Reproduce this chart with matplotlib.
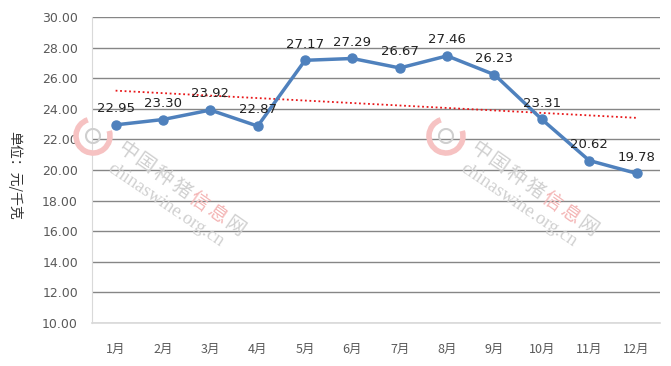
import matplotlib.pyplot as plt
import numpy as np
from matplotlib.patches import Arc

plt.rcParams['font.family'] = ['Noto Sans CJK SC', 'DejaVu Sans']

months = ["1月", "2月", "3月", "4月", "5月", "6月", "7月", "8月", "9月", "10月", "11月", "12月"]
prices = [22.95, 23.30, 23.92, 22.87, 27.17, 27.29, 26.67, 27.46, 26.23, 23.31, 20.62, 19.78]
y_ticks = [10, 12, 14, 16, 18, 20, 22, 24, 26, 28, 30]

W, H = 671, 366
fig = plt.figure(figsize=(W / 100, H / 100), dpi=100)
ax = fig.add_axes([0.137, 0.1175, 0.847, 0.836])

x = np.arange(len(months))


def watermark(px, py):
    # px, py: pixel position of the logo centre (top-left origin)
    fx, fy = px / W, 1 - py / H
    r = 17
    fig.add_artist(Arc((fx, fy), 2 * r / W, 2 * r / H, theta1=100, theta2=30,
                       transform=fig.transFigure, color="#f6c2c2", lw=4, zorder=1))
    fig.add_artist(Arc((fx, fy), 14 / W, 14 / H, theta1=0, theta2=360,
                       transform=fig.transFigure, color="#cfcfcf", lw=1.5, zorder=1))
    chars = "中国种猪信息网"
    ang = np.deg2rad(35)
    for i, ch in enumerate(chars):
        cx = px + 34 + i * 21.9 * np.cos(ang)
        cy = py + 15 + i * 21.9 * np.sin(ang)
        col = "#f4b6b6" if ch in "信息" else "#d0d0d0"
        fig.text(cx / W, 1 - cy / H, ch, rotation=-35, fontsize=14, color=col,
                 ha="center", va="center", zorder=1)
    fig.text((px + 73) / W, 1 - (py + 69) / H, "chinaswine.org.cn", rotation=-34,
             fontsize=13.5, color="#d0d0d0", family="Liberation Serif",
             ha="center", va="center", zorder=1)


for lx in (93, 446):
    watermark(lx, 136)

ax.plot(x, prices, color="#4f81bd", lw=2.5, marker="o", ms=6.5, zorder=3)

# linear trend
k, b = np.polyfit(x, prices, 1)
ax.plot(x, k * x + b, color="#e8181a", lw=1.3, ls=(0, (1, 1.5)), zorder=2)

for xi, v in zip(x, prices):
    ax.annotate(f"{v:.2f}", (xi, v), xytext=(0, 7), textcoords="offset points",
                ha="center", va="bottom", fontsize=9.5, color="#222222",
                family="DejaVu Sans", zorder=4)

ax.set_xlim(-0.5, len(months) - 0.5)
ax.set_ylim(10, 30)
ax.set_yticks(y_ticks)
ax.set_yticklabels([f"{t:.2f}" for t in y_ticks], family="DejaVu Sans")
ax.set_xticks(x)
ax.set_xticklabels(months)
ax.tick_params(axis="both", length=0, labelsize=9, colors="#595959")
ax.tick_params(axis="x", pad=14)
ax.tick_params(axis="y", pad=10)
ax.grid(axis="y", color="#868686", lw=1, zorder=0)
ax.set_axisbelow(True)
ax.patch.set_alpha(0)

for side in ("top", "right"):
    ax.spines[side].set_visible(False)
ax.spines["left"].set_color("#d9d9d9")
ax.spines["bottom"].set_color("#d9d9d9")
ax.spines["bottom"].set_linewidth(1.2)

fig.text(0.022, 0.52, "单位：元/千克", rotation=-90, ha="center", va="center",
         fontsize=10, color="#333333")

fig.savefig("out.png", dpi=100)
